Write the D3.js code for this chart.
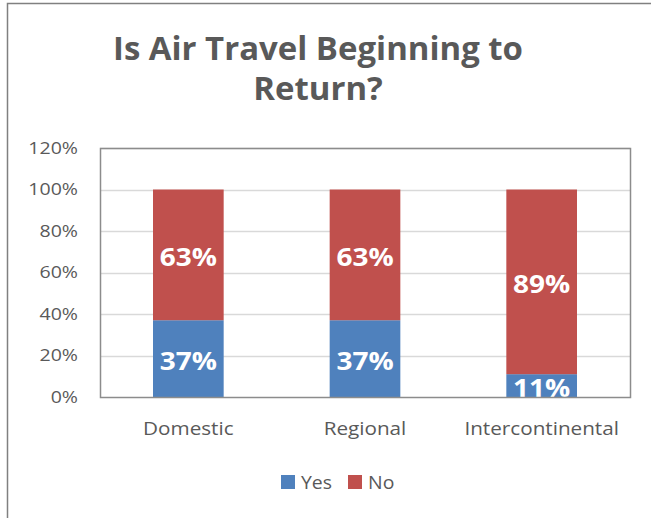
<!DOCTYPE html>
<html>
<head>
  <script src="https://d3js.org/d3.v7.min.js"></script>
<style>
  body { margin: 0; background: #fff; }
  text { font-family: 'Open Sans', sans-serif; }
</style>
</head>
<body>
  <div id="chart"><svg></svg></div>

  <script>
    'use strict';

    var categories = ["Domestic", "Regional", "Intercontinental"];
    var yesValues = [37, 37, 11];
    var noValues = [63, 63, 89];
    var yTicks = [0, 20, 40, 60, 80, 100, 120];
    var seriesNames = ["Yes", "No"];
    var seriesColors = ["#4f81bd", "#c0504d"];

    var width = 651, height = 518;
    var plot = {left: 100, top: 148, right: 630, bottom: 397};
    var sx = 1.15; // the source font runs wider than Open Sans

    var svg = d3.select("#chart svg").attr("width", width).attr("height", height);

    // places a text at (px,py), stretched horizontally
    function place(sel, px, py, k) {
      sel.attr("transform", function(d, i) {
        var xx = typeof px === "function" ? px(d, i) : px;
        var yy = typeof py === "function" ? py(d, i) : py;
        return "translate(" + xx + "," + yy + ") scale(" + k + ",1)";
      });
    }

    // outer chart border
    svg.append("rect")
      .attr("x", 7.5).attr("y", 3.5)
      .attr("width", 660).attr("height", 530)
      .attr("fill", "none").attr("stroke", "#808080").attr("stroke-width", 1.5);

    // title
    var title = svg.append("text")
      .attr("text-anchor", "middle")
      .attr("fill", "#595959")
      .style("font-size", "32px")
      .style("font-weight", "bold")
      .call(place, 318, 0, 1.03);
    title.append("tspan").attr("x", 0).attr("y", 60).text("Is Air Travel Beginning to");
    title.append("tspan").attr("x", 0).attr("y", 100).text("Return?");

    var x = d3.scaleBand().domain(categories).range([plot.left, plot.right]).padding(0);
    var y = d3.scaleLinear().domain([0, 120]).range([plot.bottom, plot.top]);
    var barW = x.bandwidth() * 0.4;

    // gridlines
    svg.append("g")
      .selectAll("line")
      .data(yTicks.slice(1))
      .enter().append("line")
        .attr("x1", plot.left).attr("x2", plot.right)
        .attr("y1", function(d) { return Math.round(y(d)) + 0.5; })
        .attr("y2", function(d) { return Math.round(y(d)) + 0.5; })
        .attr("stroke", "#d9d9d9").attr("stroke-width", 1.5);

    // y axis labels
    var yAxis = svg.append("g")
      .attr("transform", "translate(" + plot.left + ",0)")
      .call(d3.axisLeft(y).tickValues(yTicks).tickSize(0).tickPadding(22)
        .tickFormat(function(d) { return d + "%"; }));
    yAxis.select(".domain").remove();
    yAxis.selectAll("text")
      .attr("x", -22 / sx)
      .attr("transform", "scale(" + sx + ",1)")
      .attr("fill", "#595959")
      .style("font-family", "'Open Sans', sans-serif")
      .style("font-size", "17px");

    // stacked data
    var rows = categories.map(function(c, i) { return {cat: c, Yes: yesValues[i], No: noValues[i]}; });
    var stack = d3.stack().keys(seriesNames)(rows);

    svg.append("clipPath").attr("id", "plotclip")
      .append("rect")
      .attr("x", plot.left).attr("y", plot.top)
      .attr("width", plot.right - plot.left).attr("height", plot.bottom - plot.top);

    var layers = svg.append("g").attr("clip-path", "url(#plotclip)")
      .selectAll("g")
      .data(stack)
      .enter().append("g")
        .attr("fill", function(d, i) { return seriesColors[i]; });

    layers.selectAll("rect")
      .data(function(d) { return d; })
      .enter().append("rect")
        .attr("x", function(d) { return x(d.data.cat) + (x.bandwidth() - barW) / 2; })
        .attr("y", function(d) { return y(d[1]); })
        .attr("width", barW)
        .attr("height", function(d) { return y(d[0]) - y(d[1]); });

    layers.selectAll("text")
      .data(function(d) { return d; })
      .enter().append("text")
        .call(place,
          function(d) { return x(d.data.cat) + x.bandwidth() / 2; },
          function(d) { return (y(d[0]) + y(d[1])) / 2 + 11.5; }, 1.12)
        .attr("text-anchor", "middle")
        .attr("fill", "#fff")
        .style("font-size", "25px")
        .style("font-weight", "bold")
        .text(function(d) { return (d[1] - d[0]) + "%"; });

    // plot border
    svg.append("rect")
      .attr("x", plot.left + 0.5).attr("y", plot.top + 0.5)
      .attr("width", plot.right - plot.left).attr("height", plot.bottom - plot.top)
      .attr("fill", "none").attr("stroke", "#8c8c8c").attr("stroke-width", 1.5);

    // x axis labels
    svg.append("g")
      .selectAll("text")
      .data(categories)
      .enter().append("text")
        .call(place, function(d) { return x(d) + x.bandwidth() / 2; }, 435, sx)
        .attr("text-anchor", "middle")
        .attr("fill", "#595959")
        .style("font-size", "18px")
        .text(function(d) { return d; });

    // legend
    var legendX = [281, 348];
    var legend = svg.append("g")
      .selectAll("g")
      .data(seriesNames)
      .enter().append("g")
        .attr("transform", function(d, i) { return "translate(" + legendX[i] + ",475)"; });
    legend.append("rect")
      .attr("width", 14).attr("height", 14)
      .attr("fill", function(d, i) { return seriesColors[i]; });
    legend.append("text")
      .call(place, 20, 13.5, 1.08)
      .attr("fill", "#595959")
      .style("font-size", "18px")
      .text(function(d) { return d; });
  </script>
</body>
</html>
